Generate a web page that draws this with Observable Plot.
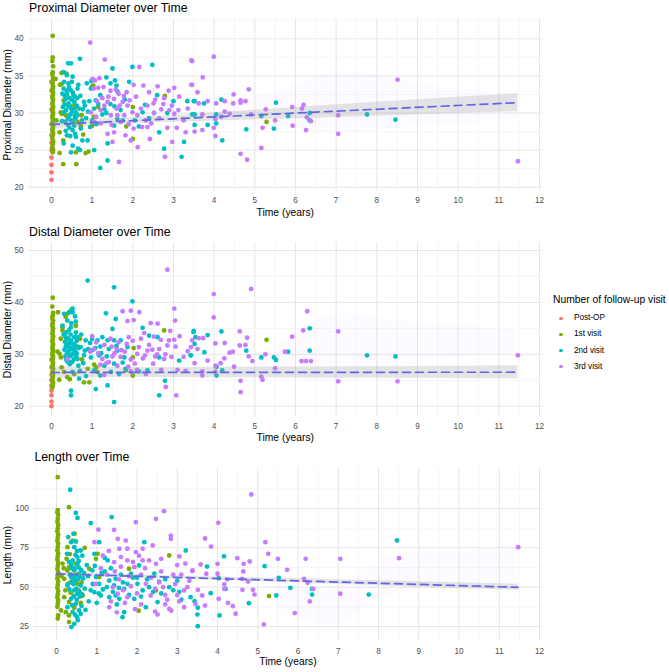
<!DOCTYPE html>
<html>
<head>
<meta charset="utf-8">
<script src="https://cdn.jsdelivr.net/npm/d3@7"></script>
<script src="https://cdn.jsdelivr.net/npm/@observablehq/plot@0.6"></script>
<style>
  body { margin: 0; background: #fff; font-family: "Liberation Sans", Arial, sans-serif; }
  #root { position: relative; width: 669px; height: 672px; overflow: hidden; background: #fff; }
  .panel { position: absolute; left: 0; }
  .lg { position: absolute; white-space: nowrap; line-height: 12px; }
  .lgdot { position: absolute; width: 3.6px; height: 3.6px; border-radius: 50%; }
</style>
</head>
<body>
<div id="root"></div>
<script>
// ---------- categories, colours, ticks ----------
const visits = ["Post-OP", "1st visit", "2nd visit", "3rd visit"];
const visitColors = ["#F8766D", "#7CAE00", "#00BFC4", "#C77CFF"];
const xTicks = [0, 1, 2, 3, 4, 5, 6, 7, 8, 9, 10, 11, 12];
const xMinor = [-0.5, 0.5, 1.5, 2.5, 3.5, 4.5, 5.5, 6.5, 7.5, 8.5, 9.5, 10.5, 11.5];
const proxTicks = [20, 25, 30, 35, 40];
const proxMinor = [22.5, 27.5, 32.5, 37.5, 42.5];
const distTicks = [20, 30, 40, 50];
const distMinor = [25, 35, 45];
const lenTicks = [25, 50, 75, 100];
const lenMinor = [37.5, 62.5, 87.5, 112.5];

// ---------- Proximal diameter [time (years), mm] ----------
const proxPost = [[0,21],[0,22],[0,23],[0,24],[0,25],[0,26],[0,27],[0,28.5],[0,30.5],[0,33],[0,34.2]];
const prox1st = [[0.03,40.4],[0.03,37.5],[0.02,37.0],[0.04,36.3],[0.03,35.5],[0.02,35.2],[0.04,34.7],[0.03,34.3],[0.02,34.0],[0.04,33.6],[0.03,33.3],[0.02,33.0],[0.04,32.7],[0.03,32.4],[0.02,32.1],[0.04,31.8],[0.03,31.5],[0.02,31.2],[0.04,30.9],[0.03,30.6],[0.02,30.3],[0.04,30.0],[0.03,29.7],[0.02,29.4],[0.04,29.1],[0.03,28.8],[0.02,28.5],[0.04,28.2],[0.03,27.9],[0.02,27.6],[0.04,27.3],[0.03,27.0],[0.02,26.6],[0.04,26.2],[0.03,25.8],[0.02,25.4],[0.04,25.0],[0.03,24.7],
  [0.25,35.4],[0.37,35.3],[0.25,33.9],[0.21,33.8],[0.30,31.7],[0.39,32.2],[0.56,31.0],[0.25,29.9],[0.35,29.7],[0.23,30.1],[0.61,30.8],[0.74,29.7],[0.64,28.8],[0.72,28.3],[0.78,27.1],[0.20,27.4],[0.20,24.6],[0.29,26.3],[0.29,23.1],[0.61,23.1],[0.84,24.6],[0.60,24.7],[0.91,24.8],[1.00,33.6],[1.03,33.7],[1.00,28.3],[1.04,29.5],[1.15,30.8],[1.84,28.2],[2.00,30.8],[2.00,26.5],[2.79,32.3],[5.29,28.8],[0.12,29.0],[0.10,34.6],[0.45,31.0]];
const prox2nd = [[0.30,35.5],[0.41,36.7],[0.48,36.7],[0.70,37.3],[0.38,35.1],[0.52,34.9],[0.31,34.2],[0.43,33.5],[0.52,32.8],[0.27,32.6],[0.35,31.9],[0.64,33.3],[0.87,34.0],[0.97,33.3],[0.98,34.3],[1.50,36.0],[1.56,34.4],[1.60,33.7],[1.62,32.9],[1.20,32.4],[1.09,31.7],[0.93,31.6],[0.82,31.0],[1.05,30.6],[0.56,31.5],[0.39,31.0],[0.48,30.6],[0.60,30.1],[0.31,30.1],[0.64,29.7],[0.43,29.5],[0.34,28.8],[0.56,28.3],[0.72,27.9],[0.52,27.7],[0.38,27.0],[0.60,26.8],[0.30,25.9],[0.52,25.6],[0.66,25.2],[0.70,25.0],[0.48,24.7],[0.89,26.3],[0.76,26.3],[1.05,25.0],[1.38,23.6],[1.20,22.6],[1.38,25.9],[1.54,28.3],[1.62,29.2],[1.99,36.2],[2.48,36.5],[1.91,34.2],[2.24,30.1],[2.30,31.1],[2.52,30.0],[2.65,27.4],[2.77,25.2],[3.20,24.1],[3.00,31.6],[3.34,31.6],[3.50,31.6],[3.26,26.1],
  [0.36,30.4],[0.42,31.3],[0.46,29.8],[0.50,31.8],[0.55,30.5],[0.40,29.2],[0.33,32.3],[0.45,32.0],[0.58,32.2],[0.62,31.0],[0.28,30.8],[0.49,29.0],[0.53,28.8],[0.44,28.0],[0.37,33.0],[0.59,29.3],[0.68,30.6],[0.75,29.0],[0.80,31.5],[0.90,30.2],[1.00,29.0],[1.10,28.5],[1.25,29.8],[1.30,30.5],[1.45,31.2],[1.70,30.4],[1.80,31.8],[2.05,29.0],[2.15,28.2],[2.40,29.3],[2.60,32.4],[2.85,30.0],[1.35,34.8],[1.45,34.0],
  [0.32,31.2],[0.38,32.6],[0.44,30.9],[0.47,33.1],[0.51,30.2],[0.54,32.4],[0.57,29.6],[0.63,32.0],[0.41,28.4],[0.35,27.6],[0.46,26.9],[0.58,27.2],[0.66,33.8],[0.71,32.3],[0.77,30.5],[0.85,29.3],[0.95,28.1],[1.15,31.2],[1.35,30.0],[1.55,30.9],[1.75,29.0],[0.26,28.9],[0.30,33.3],[0.50,34.2],[0.42,34.0],
  [3.52,31.6],[3.75,31.3],[4.18,31.8],[3.46,29.8],[3.52,29.8],[3.84,28.4],[4.05,29.8],[4.05,28.6],[3.52,28.4],[4.20,26.3],[4.79,27.8],[5.16,29.6],[5.52,31.4],[5.47,27.9],[5.82,29.6],[6.35,30.0],[6.35,29.0],[7.76,29.8],[8.46,29.1]];
const prox3rd = [[0.95,39.5],[1.31,37.2],[1.18,34.7],[1.01,34.6],[2.16,36.2],[2.02,33.8],[2.26,33.7],[2.61,33.6],[3.02,33.4],[3.44,37.1],[3.44,33.8],[2.77,32.0],[3.14,32.2],[2.96,31.0],[3.02,29.9],[2.51,31.3],[2.36,31.0],[2.52,30.0],[2.11,29.7],[1.99,30.1],[1.79,29.7],[1.62,29.7],[1.46,29.7],[1.54,31.9],[1.38,31.5],[1.30,31.0],[1.21,30.4],[1.75,31.5],[1.87,31.0],[1.70,28.8],[1.54,27.4],[1.38,27.2],[1.21,28.6],[0.97,30.1],[1.05,28.8],[1.50,26.1],[1.66,23.4],[1.95,26.3],[2.02,27.9],[2.23,28.1],[2.36,28.1],[2.85,28.0],[2.97,26.1],[3.08,28.0],[2.79,24.1],
  [1.40,32.2],[1.60,30.6],[1.65,32.6],[1.85,32.8],[1.45,33.0],[1.10,29.5],[1.25,32.0],[1.90,28.5],[2.40,32.8],[2.70,30.5],[2.90,30.4],[1.15,33.4],[1.04,33.3],[1.07,34.4],
  [1.12,31.6],[1.28,33.5],[1.48,28.4],[1.58,33.2],[1.68,31.0],[1.78,32.3],[1.92,31.7],[2.08,32.2],[2.20,30.6],[2.32,29.0],[2.45,28.6],[2.55,31.8],[2.65,29.3],[2.75,31.2],[2.88,33.0],[3.12,30.4],[3.25,29.0],[3.35,30.6],[1.82,27.0],[2.12,25.4],[2.42,26.5],[3.30,27.4],
  [3.46,37.0],[3.99,37.6],[3.46,33.8],[3.72,34.8],[3.59,32.8],[3.62,31.3],[3.84,31.6],[4.05,31.3],[3.71,29.8],[4.17,29.5],[4.26,30.2],[4.26,31.6],[4.48,32.5],[4.47,31.3],[4.65,31.7],[4.65,31.4],[4.77,31.6],[4.85,33.2],[4.91,29.8],[4.38,29.9],[4.03,29.2],[3.99,28.0],[3.52,27.5],[3.71,27.7],[4.03,26.9],[4.65,24.5],[4.81,23.7],[5.16,25.3],[5.19,28.0],[5.27,30.5],[5.50,29.0],[5.92,30.8],[6.16,30.6],[6.20,31.1],[5.93,28.3],[6.28,29.4],[6.38,28.9],[6.26,27.7],[7.05,29.7],[7.05,27.2],[8.51,34.5],[11.47,23.5]];

// ---------- Distal diameter ----------
const distPost = [[0,20.0],[0,20.9],[0,22.1],[0,23.0],[0,24.0],[0,25.0],[0,26.0],[0,27.5],[0,29.0]];
const dist1st = [[0.03,40.9],[0.02,39.2],[0.04,38.0],[0.03,37.5],[0.02,37.0],[0.04,36.5],[0.03,36.0],[0.02,35.5],[0.04,35.0],[0.03,34.5],[0.02,34.0],[0.04,33.5],[0.03,33.0],[0.02,32.5],[0.04,32.0],[0.03,31.6],[0.02,31.2],[0.04,30.8],[0.03,30.4],[0.02,30.0],[0.04,29.6],[0.03,29.2],[0.02,28.8],[0.04,28.4],[0.03,28.0],[0.02,27.6],[0.04,27.2],[0.03,26.8],[0.02,26.4],[0.04,26.0],[0.03,25.5],[0.02,25.0],[0.04,24.5],[0.03,24.0],[0.02,23.6],
  [0.16,38.1],[0.41,37.9],[0.49,38.6],[0.27,35.2],[0.27,34.6],[0.37,33.0],[0.23,33.0],[0.20,30.1],[0.23,29.4],[0.46,28.5],[0.31,26.6],[0.19,25.1],[0.39,25.6],[0.56,26.2],[0.80,24.6],[0.93,24.6],[0.89,27.2],[1.05,28.0],[1.10,27.5],[1.13,26.6],[1.83,26.9],[2.00,25.9],[2.00,29.4],[2.02,31.2],[2.77,34.6],[5.29,32.8],[0.60,35.5],[0.65,31.5],[0.70,33.0],[0.15,30.5],[0.25,27.5],[0.45,25.2],[0.75,29.0],[0.35,37.2]];
const dist2nd = [[0.89,44.2],[1.54,42.9],[1.99,40.2],[0.31,37.8],[0.43,38.1],[0.52,38.8],[0.52,38.1],[0.60,36.3],[0.39,36.5],[0.27,35.5],[0.48,35.2],[1.34,37.9],[1.58,36.8],[0.43,34.6],[0.35,33.3],[0.48,32.7],[0.56,32.0],[0.35,31.4],[0.43,30.7],[0.56,30.4],[0.72,31.4],[0.64,33.3],[0.84,32.7],[1.00,33.0],[1.13,32.7],[1.25,33.3],[1.38,32.7],[1.54,32.7],[1.70,32.7],[1.50,34.9],[1.41,31.0],[1.62,30.7],[1.87,31.4],[1.17,29.8],[0.97,29.4],[0.80,29.8],[0.64,29.1],[1.05,26.9],[1.30,27.8],[1.54,28.2],[1.79,29.4],[1.46,26.6],[1.66,26.2],[1.82,27.2],[0.52,26.6],[0.68,25.3],[0.48,23.0],[0.48,22.1],[1.09,23.3],[1.38,24.0],[1.54,20.8],[2.24,35.1],[2.40,33.6],[2.61,33.3],[2.65,29.4],[2.79,24.9],[2.65,22.1],[3.14,28.8],[3.49,34.3],[3.43,29.8],[2.36,26.9],[2.15,26.7],
  [0.40,31.8],[0.45,29.6],[0.50,31.0],[0.55,29.0],[0.38,30.2],[0.33,32.4],[0.47,33.8],[0.58,31.6],[0.62,30.2],[0.42,28.6],[0.36,29.0],[0.52,30.0],[0.44,32.2],[0.60,34.2],[0.30,33.8],[0.66,27.8],[0.90,31.0],[1.20,31.5],[1.00,30.8],[0.78,28.3],
  [0.32,30.9],[0.37,31.9],[0.41,30.1],[0.46,31.3],[0.49,29.9],[0.53,31.9],[0.57,30.8],[0.61,29.5],[0.34,29.6],[0.39,28.6],[0.45,28.1],[0.51,28.5],[0.56,33.3],[0.62,32.6],[0.67,31.2],[0.42,33.0],[0.36,34.2],[0.49,36.0],[0.58,37.3],[0.73,33.8],[0.82,30.7],[0.95,32.2],[1.08,31.2],[1.22,30.2],[1.36,29.6],[1.60,31.6],[1.75,28.4],[0.70,26.8],[0.85,25.8],[1.20,25.9],
  [3.50,34.5],[3.54,33.3],[3.52,32.0],[3.84,33.7],[3.76,30.4],[4.18,34.4],[4.06,27.6],[4.06,25.9],[4.20,26.9],[4.79,30.7],[5.16,29.4],[5.47,29.4],[5.52,28.9],[5.82,30.5],[6.35,35.0],[6.35,30.7],[3.42,29.8],[7.76,29.8],[8.46,29.6]];
const dist3rd = [[2.85,46.3],[0.39,29.1],[1.75,38.3],[1.95,38.4],[2.16,38.1],[1.87,36.4],[2.02,36.6],[3.02,38.8],[3.04,36.5],[2.44,36.0],[2.61,35.9],[2.28,34.1],[2.52,33.4],[2.69,32.8],[2.89,32.7],[3.02,32.8],[2.85,31.7],[3.05,31.5],[2.36,30.7],[2.48,30.9],[2.15,31.4],[2.11,30.1],[1.48,31.5],[1.05,31.0],[1.25,29.1],[1.41,28.5],[1.62,27.8],[1.50,29.6],[1.89,27.6],[2.32,26.2],[2.50,28.2],[2.77,29.1],[2.81,23.7],[3.07,22.1],[3.43,31.4],
  [1.00,33.5],[1.15,30.2],[1.30,31.8],[1.60,31.0],[1.70,29.5],[1.80,30.5],[1.95,29.0],[2.05,28.2],[2.25,29.2],[2.60,30.0],[2.95,29.5],[3.10,27.0],[3.30,26.8],[1.35,28.3],[1.90,33.3],[2.70,27.0],[0.95,30.5],
  [1.10,32.3],[1.20,28.0],[1.45,33.0],[1.55,30.2],[1.65,32.3],[1.72,30.8],[1.85,32.0],[2.00,32.6],[2.20,33.0],[2.30,29.8],[2.40,31.8],[2.55,29.6],[2.65,31.0],[2.80,30.0],[2.92,34.5],[3.15,33.5],[3.25,29.5],[1.30,26.0],[1.95,26.7],[2.10,27.0],[3.35,30.6],
  [3.99,41.6],[4.91,42.6],[3.99,37.1],[3.46,32.7],[3.59,31.0],[3.62,33.1],[3.73,33.1],[4.03,32.1],[4.26,32.2],[4.63,34.4],[4.81,33.2],[4.77,31.8],[4.63,31.7],[4.46,30.5],[4.38,30.3],[4.25,29.2],[4.16,28.3],[4.03,27.8],[3.84,28.8],[3.52,28.3],[3.71,26.7],[3.71,25.9],[4.03,26.6],[4.49,27.6],[4.85,29.6],[4.94,28.7],[4.65,24.9],[4.65,22.7],[5.16,25.7],[5.19,25.1],[5.26,30.0],[5.50,27.3],[5.74,30.5],[5.92,33.4],[6.19,34.6],[6.29,38.3],[6.15,28.7],[6.26,28.7],[6.38,28.7],[7.05,34.4],[7.05,24.8],[8.51,24.8],[11.47,29.8]];

// ---------- Length ----------
const lenPost = [];
const len1st = [[0.03,119.9],[0.03,99.0],[0.02,97.5],[0.04,96.0],[0.03,93.5],[0.02,91.5],[0.04,89.5],[0.03,87.5],[0.02,85.5],[0.04,83.5],[0.03,81.5],[0.02,79.5],[0.04,77.5],[0.03,75.5],[0.02,73.5],[0.04,71.5],[0.03,69.5],[0.02,67.5],[0.04,65.5],[0.03,63.5],[0.02,61.5],[0.04,59.5],[0.03,57.5],[0.02,55.5],[0.04,53.5],[0.03,51.5],[0.02,49.5],[0.04,47.5],[0.03,45.5],[0.02,43.5],[0.04,41.5],[0.03,39.5],[0.02,37.5],[0.04,32.0],[0.03,30.0],
  [0.31,100.8],[0.27,75.4],[0.40,79.6],[0.31,62.7],[0.27,60.6],[0.40,54.2],[0.19,55.3],[0.52,52.1],[0.19,43.6],[0.31,40.5],[0.11,35.2],[0.23,34.1],[0.31,32.0],[0.44,36.9],[0.65,44.7],[0.81,61.7],[0.98,68.0],[1.02,71.2],[1.06,56.4],[1.80,61.7],[2.47,47.9],[2.80,70.1],[0.31,27.8],[5.28,44.3],[0.15,65.0],[0.35,46.5],[0.50,58.0],[0.60,40.0],[0.70,75.0],[0.45,84.0],[2.04,35.0],
  [0.22,48.0],[0.28,52.0],[0.36,58.0],[0.42,44.0],[0.18,62.0],[0.25,68.0],[0.33,71.0],[0.48,65.0],[0.55,48.0],[0.62,53.0],[0.12,57.0]];
const len2nd = [[0.34,111.9],[0.48,97.2],[0.52,94.0],[0.85,90.7],[1.37,94.5],[0.42,83.9],[0.29,81.8],[0.36,78.6],[0.48,79.0],[0.44,75.4],[0.60,73.3],[0.26,71.2],[0.52,69.1],[0.40,67.0],[0.52,64.8],[0.64,70.0],[0.31,66.0],[0.44,60.6],[0.56,58.5],[0.36,56.4],[0.48,54.2],[0.60,51.1],[0.27,51.1],[0.44,47.9],[0.52,45.8],[0.36,42.6],[0.48,39.4],[0.56,35.2],[0.40,34.1],[0.44,26.7],[0.37,24.6],[0.51,30.9],[0.60,33.1],[0.27,37.3],[0.94,71.2],[1.06,78.6],[1.20,68.6],[1.27,67.0],[0.89,60.6],[0.98,56.4],[1.06,52.1],[0.94,46.8],[1.10,44.7],[1.31,54.2],[1.43,51.1],[1.47,55.3],[1.56,42.6],[1.68,48.9],[1.76,52.1],[1.31,43.6],[1.47,44.7],[1.93,42.6],[2.01,52.1],[2.14,47.9],[2.22,37.3],[1.68,34.1],[1.64,30.9],[2.43,58.5],[3.00,54.2],[3.21,73.3],[2.51,40.5],[2.05,63.8],[2.18,78.6],
  [0.38,62.0],[0.46,57.0],[0.55,62.5],[0.32,48.5],[0.58,44.0],[0.50,42.0],[0.42,52.0],[0.66,55.5],[0.70,49.0],[0.75,64.0],[0.80,41.0],[0.90,52.0],[1.15,48.5],[1.20,60.0],[1.35,62.0],[1.50,39.0],[1.60,58.0],[1.80,45.0],[1.90,56.0],[2.30,50.0],[2.60,46.0],[2.70,55.0],[2.90,48.0],[3.10,42.0],[0.62,38.0],[0.72,35.5],[1.00,40.0],
  [0.33,58.0],[0.37,64.5],[0.41,56.0],[0.45,62.0],[0.49,49.0],[0.53,55.0],[0.57,47.0],[0.61,61.0],[0.35,53.0],[0.43,44.5],[0.47,70.5],[0.51,73.0],[0.55,66.5],[0.59,56.5],[0.39,38.5],[0.46,32.5],[0.53,29.0],[0.63,45.5],[0.68,59.0],[0.78,57.0],[0.85,48.0],[0.95,63.5],[1.05,46.0],[1.12,59.0],[1.25,50.0],[1.40,47.0],[1.55,49.5],[1.65,53.0],[1.85,58.5],[2.00,56.0],[2.10,44.0],[2.25,55.0],[2.40,47.0],[2.55,53.5],[2.80,50.0],[3.05,47.0],
  [4.16,69.5],[3.74,63.1],[4.03,55.7],[4.20,48.9],[3.83,46.2],[3.33,43.6],[3.43,41.1],[3.51,36.9],[3.50,32.6],[3.51,25.2],[4.05,32.0],[4.78,39.8],[5.17,63.3],[5.46,44.7],[5.52,55.9],[5.81,49.6],[6.35,48.9],[6.35,45.3],[7.76,45.3],[8.46,79.7]];
const len3rd = [[1.04,86.5],[0.94,78.6],[1.43,86.4],[1.97,91.3],[2.67,98.3],[2.47,93.4],[1.52,80.7],[1.72,79.6],[1.56,74.4],[1.76,74.4],[1.97,72.2],[2.14,74.4],[1.60,69.1],[1.43,65.9],[1.76,67.0],[1.93,62.7],[2.14,67.0],[2.30,67.0],[2.47,64.8],[2.84,82.8],[2.84,80.7],[2.39,76.5],[3.05,69.5],[2.22,52.1],[1.52,45.8],[1.31,37.3],[1.76,43.6],[2.34,44.7],[2.80,36.2],[2.51,32.6],[3.17,37.3],[3.17,47.9],[3.38,60.6],
  [1.10,62.0],[1.25,58.0],[1.40,50.0],[1.55,55.0],[1.70,40.0],[1.85,50.5],[2.00,46.0],[2.10,58.0],[2.55,53.0],[2.65,50.0],[2.75,42.0],[2.95,52.0],[3.10,58.0],[3.25,50.0],[2.45,34.5],[2.85,35.0],[1.95,36.0],[1.35,41.0],[0.97,52.0],[2.60,60.0],[3.00,64.0],
  [1.15,70.0],[1.30,73.0],[1.45,60.0],[1.60,63.0],[1.65,48.0],[1.80,57.0],[1.90,66.0],[2.05,70.0],[2.20,62.0],[2.35,56.0],[2.45,49.0],[2.60,68.0],[2.70,45.0],[2.90,58.0],[3.00,45.0],[3.20,65.0],[3.30,54.0],[1.50,34.0],[2.10,39.0],[2.70,39.0],[3.05,41.0],
  [4.84,108.9],[4.02,90.9],[3.69,80.9],[3.84,75.8],[5.19,78.6],[5.26,71.2],[5.50,68.0],[6.19,68.0],[7.05,68.0],[3.37,60.2],[3.58,64.4],[4.00,64.8],[4.00,58.5],[3.72,58.5],[4.49,68.4],[4.65,64.8],[4.80,66.3],[4.64,60.0],[4.24,54.9],[4.17,51.7],[4.17,48.9],[4.61,55.3],[4.76,53.6],[4.62,48.3],[4.88,48.3],[4.92,45.3],[5.73,61.0],[6.15,55.3],[6.24,52.8],[6.38,48.9],[6.29,40.9],[5.92,33.5],[5.15,26.3],[7.05,45.8],[3.51,48.3],[3.62,44.7],[3.69,38.3],[4.03,42.6],[4.26,40.0],[4.38,37.9],[4.45,33.1],[3.45,39.4],[8.51,68.4],[11.47,75.4]];

// ---------- regression lines and confidence bands ----------
const fitT = [0, 11.47];
const proxFit = [28.45, 31.4];
const distFit = [26.5, 26.55];
const lenFit = [58.4, 49.9];
const bandT = [0, 1, 2, 3, 4, 6, 8, 10, 11.47];
const proxLo = [27.85, 28.23, 28.54, 28.77, 28.93, 29.24, 29.56, 29.92, 30.2];
const proxHi = [29.05, 29.19, 29.38, 29.67, 30.03, 30.74, 31.46, 32.12, 32.6];
const distLo = [25.4, 25.5, 25.55, 25.55, 25.5, 25.45, 25.4, 25.35, 25.3];
const distHi = [27.6, 27.5, 27.45, 27.45, 27.5, 27.55, 27.6, 27.7, 27.8];
const lenLo = [57.1, 56.66, 56.02, 55.23, 54.39, 52.66, 50.93, 49.2, 47.95];
const lenHi = [59.7, 58.66, 57.82, 57.13, 56.49, 55.26, 54.03, 52.8, 51.85];

// faint lavender ribbons
const proxFaintT = [4, 5.5, 7.2, 9, 11.47];
const proxFaintLo = [28.8, 28.0, 27.4, 28.2, 29.0];
const proxFaintHi = [31.2, 33.0, 35.5, 34.0, 32.6];
const distFaintT = [5.0, 6.0, 7.05, 8.5, 10, 11.47];
const distFaintLo = [27.0, 25.5, 24.8, 27.5, 29.5, 30.1];
const distFaintHi = [30.0, 34.0, 37.8, 36.5, 35.5, 34.6];
const lenFaintT = [5.5, 6.9, 8.2, 10, 11.47];
const lenFaintLo = [38, 25, 45, 48, 50];
const lenFaintHi = [52, 50, 68, 73, 77.5];

// ---------- drawing ----------
const FONT = "'Liberation Sans', Arial, Helvetica, sans-serif";
const rows = (arr, visit) => arr.map(([t, v]) => ({t, v, visit}));

function panel(c) {
  const pts = [
    ...rows(c.post, visits[0]), ...rows(c.v1, visits[1]),
    ...rows(c.v2, visits[2]), ...rows(c.v3, visits[3])
  ];
  const fit = fitT.map((t, i) => ({t, v: c.fit[i]}));
  const band = bandT.map((t, i) => ({t, lo: c.lo[i], hi: c.hi[i]}));
  const faint = c.fT.map((t, i) => ({t, lo: c.fLo[i], hi: c.fHi[i]}));
  return Plot.plot({
    width: 545, height: c.height,
    marginLeft: c.ml, marginRight: 3, marginTop: c.mt, marginBottom: c.mb,
    x: {domain: [-0.575, 12.075], axis: null},
    y: {domain: c.yDomain, axis: null},
    color: {domain: visits, range: visitColors},
    style: {fontFamily: FONT, fontSize: "8.2px", color: "#4D4D4D", background: "transparent", overflow: "visible"},
    marks: [
      Plot.ruleY(c.yMinor, {stroke: "#EFEFEF", strokeWidth: 0.6}),
      Plot.ruleX(xMinor, {stroke: "#EFEFEF", strokeWidth: 0.6}),
      Plot.ruleY(c.yTicks, {stroke: "#E6E6E6", strokeWidth: 1}),
      Plot.ruleX(xTicks, {stroke: "#E6E6E6", strokeWidth: 1}),
      Plot.areaY(faint, {x: "t", y1: "lo", y2: "hi", fill: "#C77CFF", fillOpacity: 0.03, curve: "natural"}),
      Plot.dot(pts, {x: "t", y: "v", fill: "visit", r: 2.4}),
      Plot.areaY(band, {x: "t", y1: "lo", y2: "hi", fill: "#999999", fillOpacity: 0.25}),
      Plot.line(fit, {x: "t", y: "v", stroke: "#6464E6", strokeWidth: 1.7, strokeDasharray: "8,5"}),
      Plot.axisX(xTicks, {tickSize: 0, tickPadding: 6.5, label: null}),
      Plot.axisY(c.yTicks, {tickSize: 0, tickPadding: 4.5, label: null}),
      Plot.text([c.title], {frameAnchor: "top-left", textAnchor: "start", lineAnchor: "middle", dx: 1, dy: c.titleDy, fontSize: 12.3, fill: "black"}),
      Plot.text(["Time (years)"], {frameAnchor: "bottom", textAnchor: "middle", lineAnchor: "middle", dy: c.xTitleDy, fontSize: 10.3, fill: "black"}),
      Plot.text([c.yLabel], {frameAnchor: "left", textAnchor: "middle", lineAnchor: "middle", rotate: -90, dx: 7 - c.ml, fontSize: 10.3, fill: "black"})
    ]
  });
}

const root = document.getElementById("root");
const cfgs = [
  {top: 0, height: 220, ml: 27.6, mt: 18, mb: 29.5, yDomain: [19.49, 42.74], yTicks: proxTicks, yMinor: proxMinor,
   post: proxPost, v1: prox1st, v2: prox2nd, v3: prox3rd, fit: proxFit, lo: proxLo, hi: proxHi,
   fT: proxFaintT, fLo: proxFaintLo, fHi: proxFaintHi,
   title: "Proximal Diameter over Time", yLabel: "Proximal Diameter (mm)", titleDy: -10, xTitleDy: 21.5},
  {top: 220, height: 225, ml: 27.6, mt: 22, mb: 29, yDomain: [18.02, 51.54], yTicks: distTicks, yMinor: distMinor,
   post: distPost, v1: dist1st, v2: dist2nd, v3: dist3rd, fit: distFit, lo: distLo, hi: distHi,
   fT: distFaintT, fLo: distFaintLo, fHi: distFaintHi,
   title: "Distal Diameter over Time", yLabel: "Distal Diameter (mm)", titleDy: -10, xTitleDy: 21},
  {top: 445, height: 227, ml: 32.9, mt: 23, mb: 31, yDomain: [15.46, 125.4], yTicks: lenTicks, yMinor: lenMinor,
   post: lenPost, v1: len1st, v2: len2nd, v3: len3rd, fit: lenFit, lo: lenLo, hi: lenHi,
   fT: lenFaintT, fLo: lenFaintLo, fHi: lenFaintHi,
   title: "Length over Time", yLabel: "Length (mm)", titleDy: -11, xTitleDy: 20.7}
];
for (const c of cfgs) {
  const el = panel(c);
  el.classList.add("panel");
  el.style.top = c.top + "px";
  root.appendChild(el);
}

// legend
const lgTitle = document.createElement("div");
lgTitle.className = "lg";
lgTitle.style.cssText += "left:553px;top:294px;font-size:10.3px;color:#000;";
lgTitle.textContent = "Number of follow-up visit";
root.appendChild(lgTitle);
const itemY = [318.3, 334.4, 350.6, 366.7];
visits.forEach((v, i) => {
  const dot = document.createElement("div");
  dot.className = "lgdot";
  dot.style.left = (561 - 1.8) + "px";
  dot.style.top = (itemY[i] - 1.8) + "px";
  dot.style.background = visitColors[i];
  root.appendChild(dot);
  const lab = document.createElement("div");
  lab.className = "lg";
  lab.style.cssText += `left:574px;top:${itemY[i] - 6}px;font-size:8.2px;color:#000;`;
  lab.textContent = v;
  root.appendChild(lab);
});
</script>
</body>
</html>
